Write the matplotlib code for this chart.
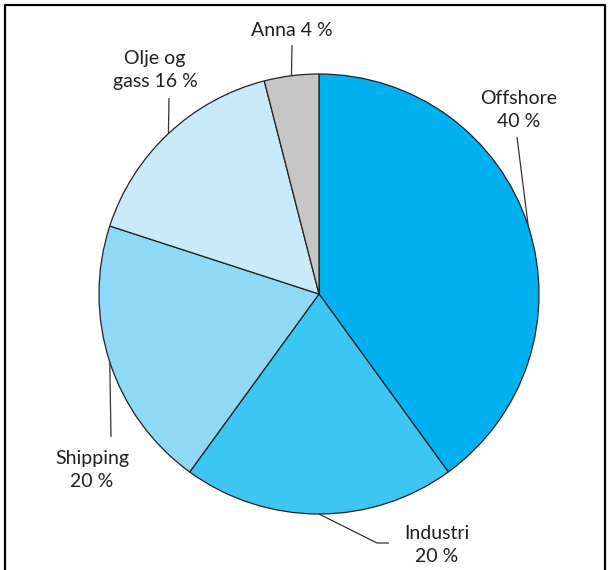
import matplotlib
matplotlib.use('Agg')
import matplotlib.pyplot as plt
import numpy as np

W, H = 610, 570

labels = ['Offshore\n40 %', 'Industri\n20 %', 'Shipping\n20 %', 'Olje og\ngass 16 %', 'Anna 4 %']
shares = [40, 20, 20, 16, 4]
colors = ['#00b0ef', '#3ec6f3', '#8fd9f7', '#c8eaf9', '#c6c6c6']

# label centres and where the leader line stops (pixels, y from top)
label_pos = [(519, 110), (437, 545), (92, 470), (155, 70), (292, 30)]
leader_end = [(517, 137), (377, 543), (111, 437), (169, 98), (292, 45)]

cx, cy, r = 319, 294, 220

plt.rcParams['font.family'] = ['Lato', 'DejaVu Sans']

fig = plt.figure(figsize=(W / 100, H / 100), dpi=100)
ax = fig.add_axes([0, 0, 1, 1])

wedges, _ = ax.pie(shares, colors=colors, startangle=90, counterclock=False,
                   radius=r, center=(cx, H - cy),
                   wedgeprops=dict(edgecolor='#222222', linewidth=0.9))

ax.set_xlim(0, W)
ax.set_ylim(0, H)
ax.set_aspect('equal')
ax.axis('off')

for w, lab, (tx, ty), (ex, ey) in zip(wedges, labels, label_pos, leader_end):
    mid = np.deg2rad((w.theta1 + w.theta2) / 2)
    sx, sy = cx + r * np.cos(mid), (H - cy) + r * np.sin(mid)
    xs, ys = [sx, ex], [sy, H - ey]
    if lab.startswith('Industri'):
        xs.append(ex + 12)
        ys.append(H - ey)
    ax.plot(xs, ys, color='#333333', lw=0.9, solid_capstyle='butt')
    ax.text(tx, H - ty, lab, ha='center', va='center', fontsize=14,
            color='#231f20', linespacing=1.45)

# frame around the figure, open at the bottom
ax.plot([5, 5, 605, 605], [-5, H - 5, H - 5, -5], color='black', lw=1.6,
        clip_on=False)

fig.savefig('out.png', dpi=100, facecolor='white')
